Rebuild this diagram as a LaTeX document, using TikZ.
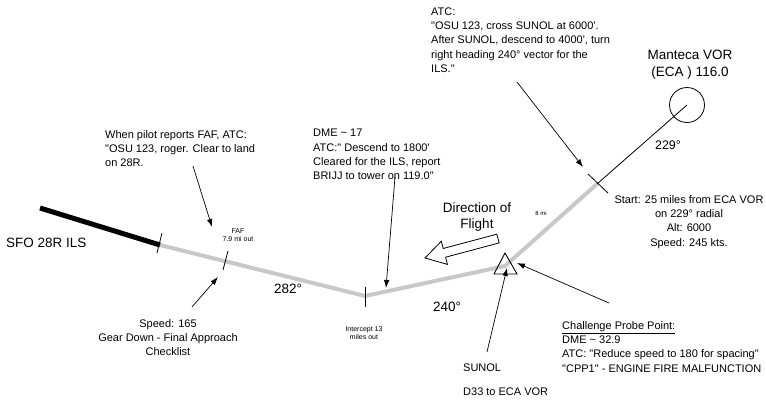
\documentclass[tikz,border=0pt]{standalone}
\usepackage{fontspec}
\setmainfont{Liberation Sans}[Ligatures=TeXOff]
\usetikzlibrary{arrows.meta}
\definecolor{routegray}{RGB}{200,200,200}
\tikzset{
  txt/.style={font=\fontsize{11}{14.3}\selectfont, inner sep=0pt, align=left},
  ctxt/.style={font=\fontsize{11}{14.3}\selectfont, inner sep=0pt, align=center},
  bigtxt/.style={font=\fontsize{13.5}{17}\selectfont, inner sep=0pt, align=center},
  hdg/.style={font=\fontsize{13.5}{16}\selectfont, inner sep=0pt},
  smalltxt/.style={font=\fontsize{7}{8.5}\selectfont, inner sep=0pt, align=center},
  route/.style={line width=4pt, draw=routegray},
  runway/.style={line width=5pt, draw=black},
  thin/.style={line width=0.8pt, draw=black},
  tick/.style={line width=0.8pt, draw=black},
  callout/.style={line width=0.7pt, draw=black, -{Latex[length=8pt,width=5.5pt]}},
}
\begin{document}
\begin{tikzpicture}[x=1pt,y=-1pt]
\useasboundingbox (0,0) rectangle (766,400);

% route points
\coordinate (rwyA) at (40,208);
\coordinate (rwyB) at (160,245);
\coordinate (icpt) at (365,296);
\coordinate (sunol) at (505,266);
\coordinate (start) at (597,184);
\coordinate (vor) at (687,105);

\draw[route] (rwyB) -- (icpt) -- (sunol) -- (start);
\draw[runway] (rwyA) -- (rwyB);
\draw[thin] (start) -- (vor);
\draw[thin] (vor) circle (17.5);

% ticks
\coordinate (t1a) at (162,233); \coordinate (t1b) at (157,253);
\coordinate (t2a) at (228,251); \coordinate (t2b) at (223,270);
\coordinate (t3a) at (365,287); \coordinate (t3b) at (365,307);
\coordinate (t4a) at (588,174); \coordinate (t4b) at (608,193);
\draw[tick] (t1a) -- (t1b);
\draw[tick] (t2a) -- (t2b);
\draw[tick] (t3a) -- (t3b);
\draw[tick] (t4a) -- (t4b);

% SUNOL triangle
\coordinate (triA) at (505,253);
\coordinate (triB) at (494,274);
\coordinate (triC) at (517,274);
\draw[line width=0.9pt] (triA) -- (triB) -- (triC) -- cycle;

% direction of flight hollow arrow
\draw[line width=0.8pt, fill=white]
  (496.8,234.2) -- (443.2,248.5) -- (441.3,241.2) -- (425,258) --
  (447.5,264.4) -- (445.6,257.2) -- (499.2,242.9) -- cycle;

% texts
\node[txt, anchor=north west] (atc) at (431,7.5) {ATC:\\"OSU 123, cross SUNOL at 6000'.\\After SUNOL, descend to 4000', turn\\right heading 240° vector for the\\ILS."};
\node[txt, anchor=north west] (faftxt) at (105,130) {When pilot reports FAF, ATC:\\"OSU 123, roger. Clear to land\\on 28R.};
\node[txt, anchor=north west] (dme) at (313,129) {DME \textasciitilde{} 17\\ATC:" Descend to 1800'\\Cleared for the ILS, report\\BRIJJ to tower on 119.0"};
\node[ctxt, anchor=north] (starttxt) at (689,195) {Start: 25 miles from ECA VOR\\on 229° radial\\Alt: 6000\\Speed: 245 kts.};
\node[txt, anchor=north west] (cpp) at (562,321) {\underline{Challenge Probe Point:}\\DME \textasciitilde{} 32.9\\ATC: "Reduce speed to 180 for spacing"\\"CPP1" - ENGINE FIRE MALFUNCTION};
\node[ctxt, anchor=north] (speed) at (168,319) {Speed: 165\\Gear Down - Final Approach\\Checklist};
\node[txt, anchor=north west] (sunoltxt) at (463,363.5) {SUNOL\\[9.5pt]D33 to ECA VOR};
\node[hdg, anchor=west] (sfo) at (6,243) {SFO 28R ILS};
\node[bigtxt, anchor=north] (manteca) at (690,49.5) {Manteca VOR\\(ECA ) 116.0};
\node[bigtxt, anchor=north, font=\fontsize{13.5}{16.5}\selectfont] (dir) at (477,202.5) {Direction of\\Flight};
\node[hdg] (h282) at (288,289) {282°};
\node[hdg] (h240) at (447,307) {240°};
\node[hdg, font=\fontsize{12.5}{15}\selectfont] (h229) at (668,145) {229°};
\node[smalltxt, anchor=north] (faf) at (238,228) {FAF\\7.9 mi out};
\node[smalltxt, anchor=north] (icpttxt) at (364,326) {Intercept 13\\miles out};
\node[smalltxt, font=\fontsize{6}{7}\selectfont] (eightmi) at (541,213) {8 mi};

% callout arrows
\coordinate (a1s) at (193,166); \coordinate (a1e) at (212,227);
\coordinate (a2s) at (192,307); \coordinate (a2e) at (218,277);
\coordinate (a3s) at (395,177); \coordinate (a3e) at (386,288);
\coordinate (a4s) at (517,82);  \coordinate (a4e) at (583,167);
\coordinate (a5s) at (487,352); \coordinate (a5e) at (507,268);
\coordinate (a6s) at (609,303); \coordinate (a6e) at (517,263);
\draw[callout] (a1s) -- (a1e);
\draw[callout] (a2s) -- (a2e);
\draw[callout] (a3s) -- (a3e);
\draw[callout] (a4s) -- (a4e);
\draw[callout] (a5s) -- (a5e);
\draw[callout] (a6s) -- (a6e);
\end{tikzpicture}
\end{document}
